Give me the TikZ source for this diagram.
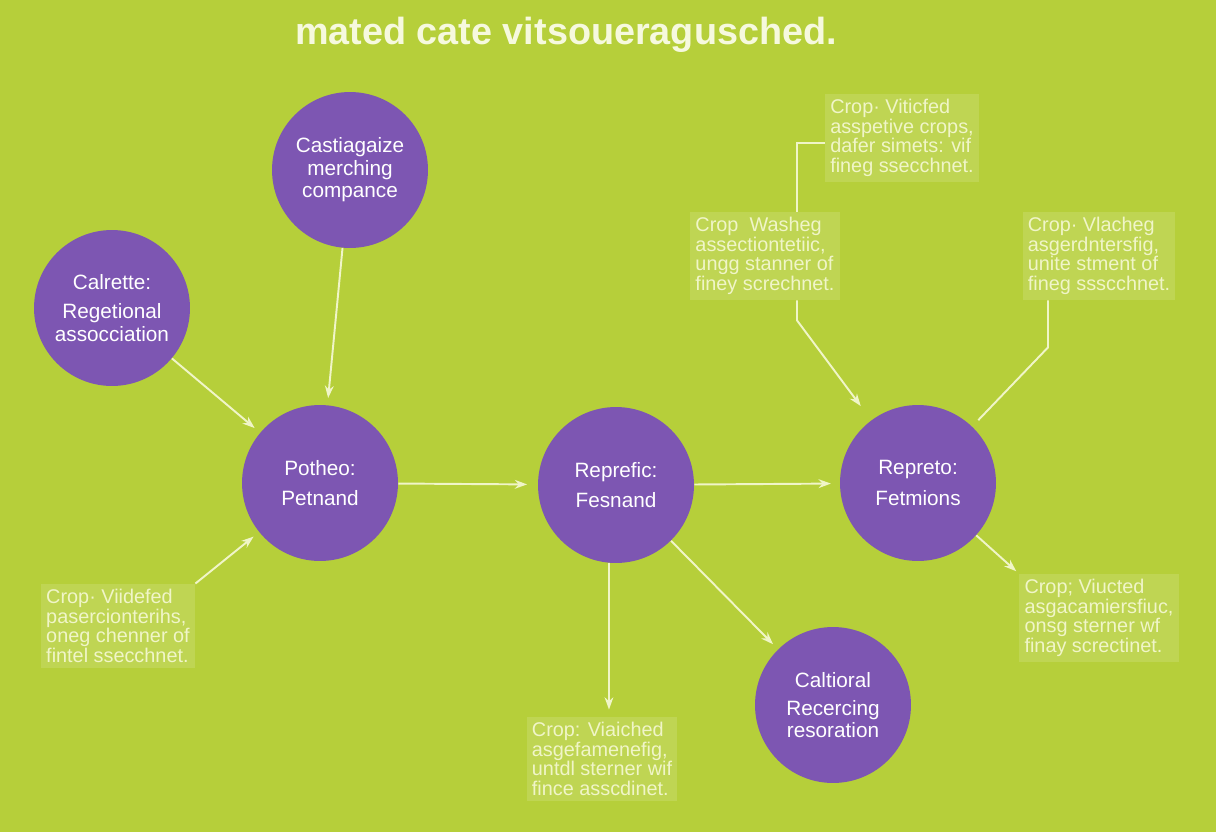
\documentclass[tikz,border=0pt]{standalone}
\usepackage{fontspec}
\setmainfont{Liberation Sans}
\usepackage{xcolor}
\usetikzlibrary{arrows.meta}
\definecolor{lime}{RGB}{182,207,58}
\definecolor{plum}{RGB}{125,86,178}
\definecolor{cream}{RGB}{240,245,200}

\begin{document}
\begin{tikzpicture}[x=0.02cm,y=-0.02cm,
    circ/.style={circle,fill=plum,minimum size=3.12cm,inner sep=0pt,align=center,
      text=white,font=\fontsize{11.8}{12.8}\selectfont},
    note/.style={fill=white,fill opacity=.13,text opacity=1,text=cream,align=left,
      inner sep=3pt,font=\fontsize{11.3}{11.2}\selectfont},
    link/.style={draw=cream,line width=1.1pt,-{Stealth[length=7pt,width=5pt]}},
    line/.style={draw=cream,line width=1.1pt}]
      \useasboundingbox (0,0) rectangle (1216,832);
      \fill[lime] (0,0) rectangle (1216,832);
      \node[text=cream!60!white,font=\fontsize{21.5}{24}\selectfont\bfseries] (ttl) at (566,35) {mated cate vitsoueragusched.};
      \node[circ] (cmp) at (350,170) {Castiagaize\\merching\\compance};
      \node[circ] (cal) at (112,308) {Calrette:\\[4pt]Regetional\\assocciation};
      \node[circ,font=\fontsize{11.8}{17.5}\selectfont] (pot) at (320,483) {Potheo:\\Petnand};
      \node[circ,font=\fontsize{11.8}{17.5}\selectfont] (rep) at (616,485) {Reprefic:\\Fesnand};
      \node[circ,font=\fontsize{11.8}{17.5}\selectfont] (ret) at (918,483) {Repreto:\\Fetmions};
      \node[circ] (cal2) at (833,705) {Caltioral\\[3pt]Recercing\\resoration};
      \node[note] (n1) at (902,138) {Crop· Viticfed\\asspetive crops,\\dafer simets: vif\\fineg ssecchnet.};
      \node[note] (n2) at (765,256) {Crop\ \ Washeg\\assectiontetiic,\\ungg stanner of\\finey screchnet.};
      \node[note] (n3) at (1099,256) {Crop· Vlacheg\\asgerdntersfig,\\unite stment of\\fineg ssscchnet.};
      \node[note] (n4) at (118,626) {Crop· Viidefed\\pasercionterihs,\\oneg chenner of\\fintel ssecchnet.};
      \node[note] (n5) at (1099,618) {Crop; Viucted\\asgacamiersfiuc,\\onsg sterner wf\\finay screctinet.};
      \node[note] (n6) at (602,759) {Crop: Viaiched\\asgefamenefig,\\untdl sterner wif\\fince asscdinet.};
      \coordinate (j1) at (797,0);
      \coordinate (j2) at (1048,0);
      \draw[link,shorten >=4pt] (cmp) -- (pot);
      \draw[link,shorten >=4pt] (cal) -- (pot);
      \draw[link,shorten >=4pt] (n4.north east) -- (pot);
      \draw[link,shorten >=6pt] (pot) -- (rep);
      \draw[link,shorten >=5pt] (rep) -- (ret);
      \draw[link,shorten >=4pt] ([xshift=-4pt]rep.south) -- ([xshift=-4pt]rep.south |- n6.north);
      \draw[link,shorten >=4pt] (rep) -- (cal2);
      \draw[line] ([yshift=-3pt]n1.west) -| (j1 |- n2.north);
      \draw[link,shorten >=10pt] (j1 |- n2.south) -- ++(0,20) -- (ret);
      \draw[line,shorten >=5pt] (j2 |- n3.south) -- ++(0,47) -- (ret);
      \draw[link,shorten >=2pt] (ret) -- (n5.north west);
    \end{tikzpicture}
\end{document}
